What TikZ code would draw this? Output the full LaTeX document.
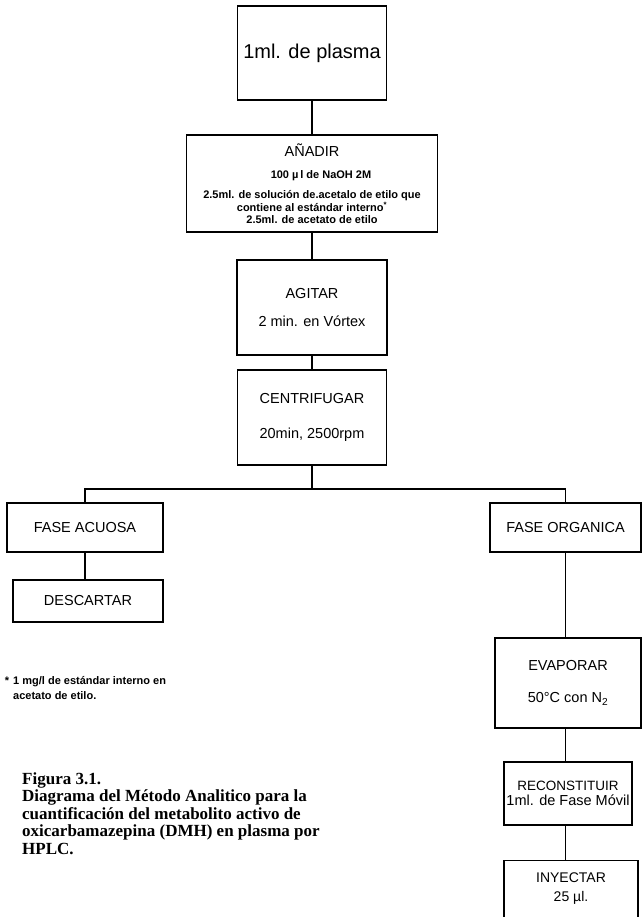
\documentclass[tikz,border=0pt]{standalone}
\usepackage{fontspec}
\setmainfont{Liberation Sans}
\newfontfamily\captionfont{Liberation Serif}
\usetikzlibrary{positioning,calc}

\begin{document}
\begin{tikzpicture}[
    x=1pt, y=-1pt,
    box/.style={rectangle, draw, line width=1.3pt, align=center, inner sep=0pt, font=\fontsize{14.5}{17}\selectfont},
    small/.style={font=\bfseries\fontsize{11}{13}\selectfont},
    link/.style={line width=1.3pt}
]
    \useasboundingbox (0,0) rectangle (643,917);
    \clip (0,0) rectangle (643,917);

    % Main column
    \node[box, minimum width=149pt, minimum height=94pt, font=\fontsize{20}{24}\selectfont] (plasma) at (312,53) {1ml. de plasma};
    \node[box, minimum width=251pt, minimum height=97pt] (anadir) at (312,183.5)
        {AÑADIR\\[5pt]
         {\bfseries\fontsize{11}{13}\selectfont\hspace*{18pt}100 µ\,l de NaOH 2M}\\[3pt]
         {\bfseries\fontsize{11}{13}\selectfont 2.5ml. de solución de.acetalo de etilo que}\\[-4pt]
         {\bfseries\fontsize{11}{13}\selectfont contiene al estándar interno\textsuperscript{*}}\\[-5pt]
         {\bfseries\fontsize{11}{13}\selectfont 2.5ml. de acetato de etilo}};
    \node[box, minimum width=150pt, minimum height=95pt] (agitar) at (312,307.5) {AGITAR\\[11pt]2 min. en Vórtex};
    \node[box, minimum width=149pt, minimum height=95pt] (centrifugar) at (312,417.5) {CENTRIFUGAR\\[18pt]20min, 2500rpm};
    \coordinate (split) at (312,489);

    % Left branch
    \node[box, minimum width=156pt, minimum height=49pt] (acuosa) at (85,527.5) {FASE ACUOSA};
    \node[box, minimum width=150pt, minimum height=42pt] (descartar) at (88,601) {DESCARTAR};

    % Right branch
    \node[box, minimum width=151pt, minimum height=49pt] (organica) at (565.5,527.5) {FASE ORGANICA};
    \node[box, minimum width=146pt, minimum height=90pt] (evaporar) at (568,683) {EVAPORAR\\[15pt]50°C con N\textsubscript{2}};
    \node[box, minimum width=128pt, minimum height=63pt, font=\fontsize{13.5}{15}\selectfont] (reconst) at (568,793.5)
        {RECONSTITUIR\\{\fontsize{14.5}{15}\selectfont 1ml. de Fase Móvil}};
    \node[box, minimum width=134pt, anchor=north, inner ysep=12pt, text depth=40pt, font=\fontsize{14}{19}\selectfont] (inyectar) at (571,860) {INYECTAR\\25 µl.};

    % Notes
    \node[small, anchor=north west, align=left, inner sep=0pt, font=\bfseries\fontsize{11}{15}\selectfont] (nota) at (13,676)
        {\llap{*\hspace{4pt}}1 mg/l de estándar interno en\\acetato de etilo.};
    \node[anchor=north west, align=left, inner sep=0pt, font=\captionfont\bfseries\fontsize{17}{17.5}\selectfont] (titulo) at (22,772)
        {Figura 3.1.\\Diagrama del Método Analitico para la\\cuantificación del metabolito activo de\\oxicarbamazepina (DMH) en plasma por\\HPLC.};

    % Lines
    \draw[link] (plasma) -- (anadir);
    \draw[link] (anadir) -- (agitar);
    \draw[link] (agitar) -- (centrifugar);
    \draw[link] (centrifugar) -- (split);
    \draw[link] (acuosa.north) |- (split) -| (organica.north);
    \draw[link] (acuosa.south) -- (acuosa.south |- descartar.north);
    \draw[link] (organica.south) -- (organica.south |- evaporar.north);
    \draw[link] (evaporar.south -| organica) -- (reconst.north -| organica);
    \draw[link] (reconst.south -| organica) -- (inyectar.north -| organica);
\end{tikzpicture}
\end{document}
